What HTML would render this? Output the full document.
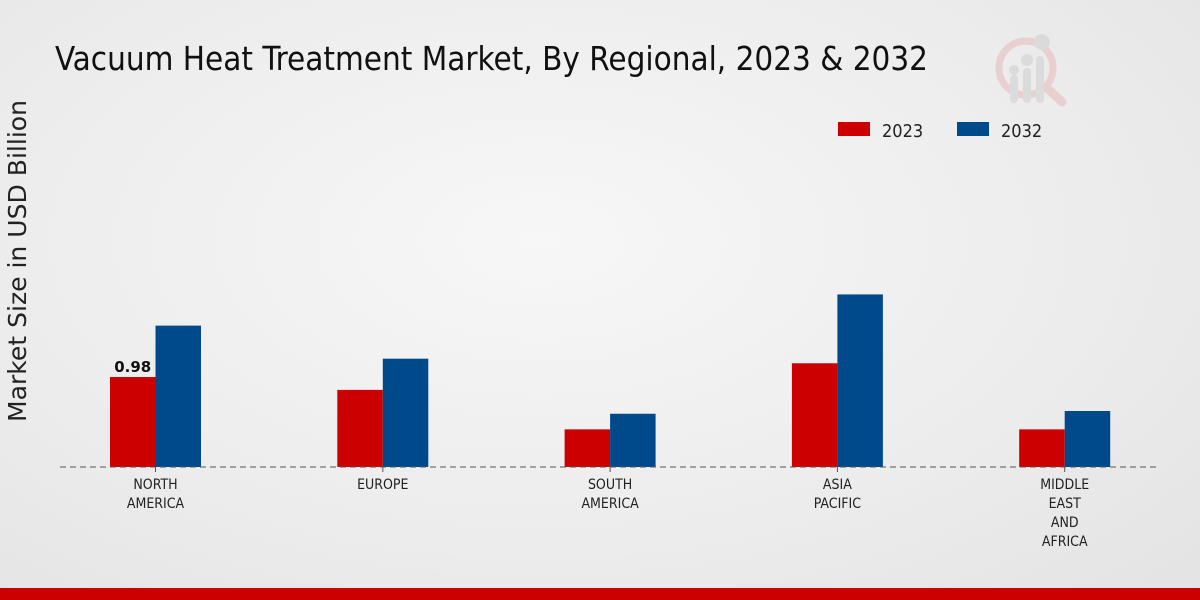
<!DOCTYPE html>
<html><head><meta charset="utf-8">
<style>
html,body{margin:0;padding:0;}
body{width:1200px;height:600px;overflow:hidden;background:radial-gradient(ellipse at 45% 40%,#f7f7f7 0%,#ececec 60%,#e3e3e3 100%);font-family:"Liberation Sans","DejaVu Sans",sans-serif;}
svg{display:block;}
</style></head><body>
<svg id="chart" width="1200" height="600" xmlns="http://www.w3.org/2000/svg">
<text x="55" y="70" font-size="33" fill="#111" font-family="'DejaVu Sans Condensed','Liberation Sans Narrow','Liberation Sans',sans-serif" textLength="873" lengthAdjust="spacingAndGlyphs">Vacuum Heat Treatment Market, By Regional, 2023 &amp; 2032</text>
<text transform="translate(26,261) rotate(-90)" text-anchor="middle" font-size="25" fill="#222" font-family="'DejaVu Sans',sans-serif" textLength="322" lengthAdjust="spacingAndGlyphs">Market Size in USD Billion</text>
<g opacity="0.5">
<circle cx="1026" cy="68" r="27" fill="none" stroke="#e8b5b5" stroke-width="7"/>
<line x1="1047" y1="88" x2="1062" y2="102" stroke="#e8b5b5" stroke-width="9" stroke-linecap="round"/>
<rect x="1010" y="75" width="8" height="28" rx="4" fill="#ccc"/><rect x="1023" y="68" width="8" height="35" rx="4" fill="#ccc"/><rect x="1036" y="56" width="8" height="47" rx="4" fill="#ccc"/>
<circle cx="1014" cy="70" r="5" fill="#ccc"/><circle cx="1027" cy="60" r="6" fill="#ccc"/><circle cx="1042" cy="42" r="8" fill="#ccc"/>
</g>
<g>
<rect x="838" y="122" width="32" height="14" fill="#cc0000"/>
<text x="882" y="137" font-size="18" fill="#222" font-family="'DejaVu Sans Condensed','Liberation Sans Narrow',sans-serif">2023</text>
<rect x="957" y="122" width="32" height="14" fill="#004a8c"/>
<text x="1001" y="137" font-size="18" fill="#222" font-family="'DejaVu Sans Condensed','Liberation Sans Narrow',sans-serif">2032</text>
</g>
<g id="bars"></g>
<line x1="60" y1="467" x2="1160" y2="467" stroke="#555" stroke-width="1" stroke-dasharray="6,4"/>
<g id="labels"></g>
<rect x="0" y="588" width="1200" height="12" fill="#cc0000"/>
</svg>
<script>
const categories = [["NORTH","AMERICA"],["EUROPE"],["SOUTH","AMERICA"],["ASIA","PACIFIC"],["MIDDLE","EAST","AND","AFRICA"]];
const values2023 = [0.98, 0.84, 0.41, 1.13, 0.41];
const values2032 = [1.54, 1.18, 0.58, 1.88, 0.61];
const shownLabels = ["0.98", null, null, null, null];

const NS = "http://www.w3.org/2000/svg";
const baseY = 467, pxPerUnit = 91.8;
function yScale(v){ return baseY - v*pxPerUnit; }
function xCenter(i){ return 155.5 + i*227.3; }
const barW = 45.5;
const bars = document.getElementById('bars');
const labels = document.getElementById('labels');
function mk(tag, attrs){ const el=document.createElementNS(NS,tag); for(const k in attrs) el.setAttribute(k,attrs[k]); return el; }
categories.forEach((cat,i)=>{
  const c = xCenter(i);
  const r = mk('rect',{x:c-barW,y:yScale(values2023[i]),width:barW,height:baseY-yScale(values2023[i]),fill:'#cc0000'});
  
  
  bars.appendChild(r);
  const b = mk('rect',{x:c,y:yScale(values2032[i]),width:barW,height:baseY-yScale(values2032[i]),fill:'#004a8c'});
  
  
  bars.appendChild(b);
  const tk = mk('line',{x1:c,y1:baseY,x2:c,y2:baseY+5,stroke:'#555'});
  
  
  labels.appendChild(tk);
  const t = mk('text',{x:c,'text-anchor':'middle','font-size':'14',fill:'#222','font-family':"'DejaVu Sans Condensed','Liberation Sans Narrow',sans-serif"});
  
  
  cat.forEach((line,j)=>{ const ts=mk('tspan',{x:c,y:489+j*19}); ts.textContent=line; t.appendChild(ts); });
  labels.appendChild(t);
  if(shownLabels[i]){
    const v = mk('text',{x:c-barW/2,y:yScale(values2023[i])-5,'text-anchor':'middle','font-size':'15','font-weight':'bold',fill:'#111','font-family':"'DejaVu Sans',sans-serif"});
    
    
    v.textContent = shownLabels[i];
    labels.appendChild(v);
  }
});
</script>
</body></html>
